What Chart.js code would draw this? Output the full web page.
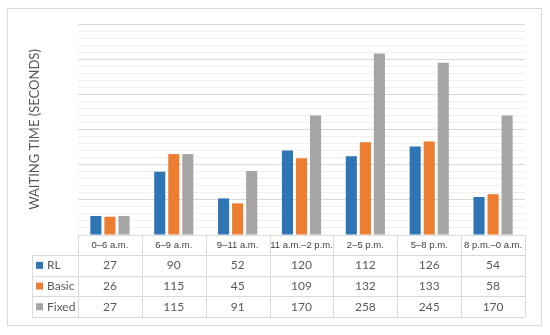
<!DOCTYPE html>
<html>
<head>
<meta charset="utf-8">
<script src="https://cdn.jsdelivr.net/npm/chart.js@4"></script>
<style>
  body { margin: 0; background: #fff; }
  canvas { display: block; }
</style>
</head>
<body>
<canvas id="waitChart" width="550" height="335"></canvas>
<script>
// categories (time of day) and waiting time per strategy
const categories = ['0\u20136 a.m.', '6\u20139 a.m.', '9\u201311 a.m.', '11 a.m.\u20132 p.m.', '2\u20135 p.m.', '5\u20138 p.m.', '8 p.m.\u20130 a.m.'];
const rlValues = [27, 90, 52, 120, 112, 126, 54];
const basicValues = [26, 115, 45, 109, 132, 133, 58];
const fixedValues = [27, 115, 91, 170, 258, 245, 170];
const seriesNames = ['RL', 'Basic', 'Fixed'];
const seriesColors = ['#2E75B6', '#ED7D31', '#A5A5A5'];

const lineColor = '#d9d9d9';

// draws the outer frame and the data table under the bars
const dataTablePlugin = {
  id: 'dataTable',
  beforeDraw(chart) {
    const ctx = chart.ctx;
    ctx.save();
    ctx.strokeStyle = lineColor;
    ctx.lineWidth = 1;
    ctx.strokeRect(7.5, 8.5, 534, 317);
    ctx.restore();
  },
  afterDraw(chart) {
    const { ctx, chartArea, scales } = chart;
    const x = scales.x;
    const left = chartArea.left;
    const right = chartArea.right;
    const top = chartArea.bottom;
    const headerBottom = top + 20;
    const rowH = 20.7;
    const legendLeft = 32;
    const bottom = headerBottom + rowH * 3;
    const colW = (right - left) / categories.length;

    ctx.save();
    ctx.strokeStyle = lineColor;
    ctx.lineWidth = 1;
    ctx.beginPath();
    // horizontal lines
    for (let r = 0; r <= 3; r++) {
      const y = Math.round(headerBottom + r * rowH) + 0.5;
      ctx.moveTo(legendLeft, y);
      ctx.lineTo(right, y);
    }
    // vertical lines
    ctx.moveTo(legendLeft + 0.5, headerBottom);
    ctx.lineTo(legendLeft + 0.5, bottom);
    for (let i = 0; i <= categories.length; i++) {
      const xx = Math.round(left + i * colW) + 0.5;
      ctx.moveTo(xx, top);
      ctx.lineTo(xx, bottom);
    }
    ctx.stroke();

    const rows = [rlValues, basicValues, fixedValues];
    ctx.textBaseline = 'middle';
    rows.forEach((vals, r) => {
      const cy = headerBottom + rowH * (r + 0.5);
      // legend key
      ctx.fillStyle = seriesColors[r];
      ctx.fillRect(36, cy - 3.5, 7, 7);
      ctx.fillStyle = '#595959';
      ctx.font = '12px Lato';
      ctx.textAlign = 'left';
      ctx.fillText(seriesNames[r], 47, cy);
      // values
      ctx.textAlign = 'center';
      vals.forEach((v, i) => {
        ctx.fillText(String(v), x.getPixelForValue(i), cy);
      });
    });
    ctx.restore();
  }
};

new Chart(document.getElementById('waitChart'), {
  type: 'bar',
  data: {
    labels: categories,
    datasets: seriesNames.map((name, i) => ({
      label: name,
      data: [rlValues, basicValues, fixedValues][i],
      backgroundColor: seriesColors[i],
      categoryPercentage: 0.66,
      barPercentage: 0.79
    }))
  },
  options: {
    responsive: false,
    animation: false,
    layout: { padding: { left: 23, right: 25, top: 24, bottom: 0 } },
    plugins: {
      legend: { display: false },
      tooltip: { enabled: false }
    },
    scales: {
      x: {
        grid: { display: false, drawTicks: false },
        border: { display: false },
        ticks: {
          color: '#404040',
          font: { family: 'Liberation Sans', size: 9.5 },
          padding: 5,
          maxRotation: 0,
          autoSkip: false
        },
        afterFit(scale) { scale.height = 100; }
      },
      y: {
        min: 0,
        max: 300,
        ticks: { display: false, stepSize: 10 },
        border: { display: false },
        grid: {
          drawTicks: false,
          color: (c) => (c.tick && c.tick.value % 50 === 0) ? '#d9d9d9' : '#f0f0f0'
        },
        title: {
          display: true,
          text: 'WAITING TIME (SECONDS)',
          color: '#595959',
          font: { family: 'Lato', size: 13 }
        },
        afterFit(scale) { scale.width = 55; }
      }
    }
  },
  plugins: [dataTablePlugin]
});
</script>
</body>
</html>
